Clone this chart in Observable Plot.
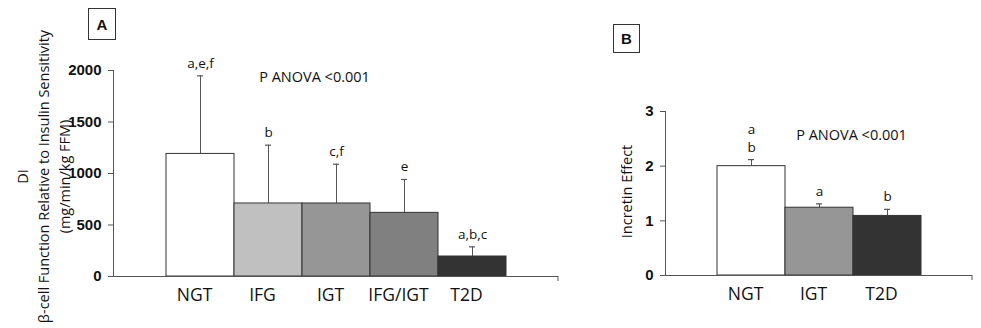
<!DOCTYPE html>
<html><head><meta charset="utf-8">
<script src="https://cdn.jsdelivr.net/npm/d3@7"></script>
<script src="https://cdn.jsdelivr.net/npm/@observablehq/plot@0.6"></script>
<style>
body{margin:0;background:#fff;}
#wrap{position:relative;width:981px;height:328px;overflow:hidden;font-family:"Open Sans",sans-serif;background:#fff;}
.panel{position:absolute;top:0;}
.panel svg{overflow:visible;}
.box{position:absolute;border:1.5px solid #333;box-sizing:border-box;font:bold 15px "Liberation Sans",Arial,sans-serif;display:flex;align-items:center;justify-content:center;color:#111;}
</style></head><body>
<div id="wrap">
<div id="a" class="panel" style="left:0"></div>
<div id="b" class="panel" style="left:560px"></div>
<div class="box" style="left:88px;top:8px;width:28px;height:32px">A</div>
<div class="box" style="left:613px;top:24px;width:27px;height:29px">B</div>
</div>
<script>
// Panel A data
const groupsA = ["NGT", "IFG", "IGT", "IFG/IGT", "T2D"];
const meanA = [1190, 709, 709, 618, 194];
const sdA = [758, 566, 381, 324, 94];
const sigA = ["a,e,f", "b", "c,f", "e", "a,b,c"];
const colorsA = ["#ffffff", "#c0c0c0", "#969696", "#808080", "#333333"];
const ticksA = [0, 500, 1000, 1500, 2000];
const yTitleA = "DI\nβ-cell Function Relative to Insulin Sensitivity\n(mg/min/kg FFM)";

// Panel B data
const groupsB = ["NGT", "IGT", "T2D"];
const meanB = [2.0, 1.24, 1.09];
const sdB = [0.12, 0.07, 0.12];
const sigB = ["a\nb", "a", "b"];
const colorsB = ["#ffffff", "#969696", "#333333"];
const ticksB = [0, 1, 2, 3];
const yTitleB = "Incretin Effect";

const anovaText = "P ANOVA <0.001";

// small downward tick at the right end of the category axis
function endTick(index, scales, values, dim) {
  const x = dim.width - dim.marginRight, y = dim.height - dim.marginBottom;
  const line = document.createElementNS("http://www.w3.org/2000/svg", "line");
  line.setAttribute("x1", x); line.setAttribute("x2", x);
  line.setAttribute("y1", y); line.setAttribute("y2", y + 5);
  line.setAttribute("stroke", "#555");
  return line;
}

function panel(o) {
  const data = o.groups.map((g, i) => ({g, m: o.means[i], top: o.means[i] + o.sds[i], sig: o.sig[i], c: o.colors[i]}));
  return Plot.plot({
    width: o.width, height: 328,
    marginLeft: o.marginLeft, marginRight: o.marginRight,
    marginTop: o.marginTop, marginBottom: o.marginBottom,
    style: {fontFamily: "'Open Sans', sans-serif", color: "#111", background: "transparent", overflow: "visible"},
    x: {domain: o.groups, paddingInner: 0, paddingOuter: 0.745, label: null, axis: null},
    y: {domain: [o.ticks[0], o.ticks[o.ticks.length - 1]], label: null, axis: null},
    marks: [
      Plot.ruleX(data, {x: "g", y1: "m", y2: "top", stroke: "#555", strokeWidth: 1}),
      Plot.tickY(data, {x: "g", y: "top", stroke: "#555", strokeWidth: 1.2, insetLeft: 31, insetRight: 31}),
      Plot.barY(data, {x: "g", y: "m", fill: d => d.c, stroke: "#333", strokeWidth: 1}),
      Plot.text(data, {x: "g", y: "top", text: "sig", lineAnchor: "bottom", dy: -8, fontSize: 13.5, lineHeight: 1.3, fill: "#111"}),
      Plot.axisY({ticks: o.ticks, tickSize: 5, tickPadding: 7, tickFormat: d => String(d), fontSize: 15, fontWeight: "bold", fontFamily: "'Liberation Sans Narrow', 'Arial Narrow', Arial, sans-serif", stroke: "#555", fill: "#111"}),
      Plot.frame({anchor: "left", stroke: "#555"}),
      Plot.ruleY([0], {stroke: "#555"}),
      endTick,
      Plot.axisX({tickSize: 0, tickPadding: 12, fontSize: 17.5, dx: -6, fill: "#111"}),
      Plot.text([anovaText], {x: () => "IGT", y: () => o.anovaY, dx: o.anovaDx, text: d => d, fontSize: 14.5, fill: "#111"}),
      Plot.text([o.yTitle], {frameAnchor: "left", textAnchor: "middle", rotate: -90, dx: o.yDx, dy: o.yDy, text: d => d, fontSize: 14.5, lineHeight: 1.45, fill: "#111"})
    ]
  });
}

document.getElementById("a").appendChild(panel({
  groups: groupsA, means: meanA, sds: sdA, sig: sigA, colors: colorsA, ticks: ticksA,
  width: 570, marginLeft: 113, marginRight: 12, marginTop: 70, marginBottom: 52,
  anovaY: 1930, anovaDx: -22, yTitle: yTitleA, yDx: -71, yDy: 3
}));
document.getElementById("b").appendChild(panel({
  groups: groupsB, means: meanB, sds: sdB, sig: sigB, colors: colorsB, ticks: ticksB,
  width: 421, marginLeft: 105, marginRight: 9, marginTop: 111, marginBottom: 53,
  anovaY: 2.57, anovaDx: 32, yTitle: yTitleB, yDx: -40, yDy: -2
}));
</script>
</body></html>
